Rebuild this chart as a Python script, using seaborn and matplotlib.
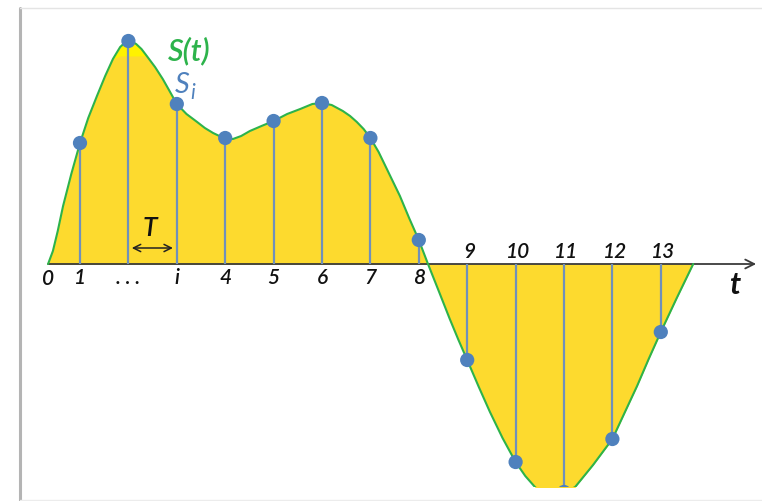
import numpy as np
import matplotlib
matplotlib.use("Agg")
import matplotlib.pyplot as plt
from matplotlib.lines import Line2D
import seaborn as sns

# Continuous signal S(t) (t in sample units)
curve_t = [0.34, 0.44, 0.54, 0.65, 0.82, 1.0, 1.17, 1.35, 1.52, 1.68,
           1.83, 1.92, 2.0, 2.08, 2.16, 2.27, 2.38, 2.55, 2.71, 2.85,
           3.0, 3.2, 3.42, 3.58, 3.75, 3.88, 4.0, 4.16, 4.33, 4.51,
           4.75, 5.0, 5.28, 5.55, 5.8, 6.0, 6.2, 6.43, 6.58, 6.72,
           6.86, 7.0, 7.17, 7.34, 7.47, 7.61, 7.8, 8.0, 8.19, 8.42,
           8.64, 8.82, 9.0, 9.24, 9.47, 9.73, 10.0, 10.2, 10.4, 10.6,
           10.81, 11.0, 11.23, 11.6, 12.0, 12.25, 12.51, 12.75, 13.0, 13.33,
           13.67]
curve_s = [0.0, 0.13, 0.33, 0.58, 0.90, 1.21, 1.46, 1.68, 1.88, 2.05,
           2.17, 2.21, 2.23, 2.22, 2.20, 2.15, 2.08, 1.97, 1.85, 1.73,
           1.60, 1.50, 1.42, 1.36, 1.31, 1.28, 1.26, 1.25, 1.28, 1.33,
           1.38, 1.43, 1.50, 1.55, 1.60, 1.61, 1.59, 1.53, 1.48, 1.42,
           1.35, 1.26, 1.12, 0.95, 0.82, 0.68, 0.46, 0.24, 0.0, -0.28,
           -0.55, -0.76, -0.96, -1.23, -1.48, -1.74, -1.98, -2.12, -2.23, -2.31,
           -2.33, -2.29, -2.23, -2.01, -1.75, -1.49, -1.22, -0.95, -0.68, -0.34,
           0.0]

# Samples S_i
sample_t = [1, 2, 3, 4, 5, 6, 7, 8, 9, 10, 11, 12, 13]
sample_s = [1.21, 2.23, 1.60, 1.26, 1.43, 1.61, 1.26, 0.24,
            -0.96, -1.98, -2.28, -1.75, -0.68]
sample_labels = ["1", ". . .", "i", "4", "5", "6", "7", "8",
                 "9", "10", "11", "12", "13"]

FILL = "#FDDA2E"
GREEN = "#2DB34B"
BLUE = "#4F81BD"
STEM = "#7090BA"
INK = "#111111"

sns.set_style("white")
plt.rcParams["font.family"] = ["Lato", "DejaVu Sans"]

fig = plt.figure(figsize=(7.62, 5.02), dpi=100)
fig.patch.set_facecolor("white")
# plot area ends at 488 px from top (curve is cut off there)
ax = fig.add_axes([0, 14 / 502, 1, 488 / 502])
ax.set_xlim(-0.653, 15.091)
ax.set_ylim(-2.23, 2.65)
ax.set_axis_off()

ct = np.array(curve_t)
cs = np.array(curve_s)
# bright yellow tip at the very top, normal fill below
ax.fill_between(ct, 0, cs, color="#FFF200", lw=0, zorder=1)
ax.fill_between(ct, 0, np.minimum(cs, 2.08), color=FILL, lw=0, zorder=1.1)

# time axis with arrow
ax.annotate("", xy=(14.97, 0), xytext=(0.34, 0),
            arrowprops=dict(arrowstyle="->", color="#3a3a3a", lw=1.3,
                            mutation_scale=16, shrinkA=0, shrinkB=0),
            zorder=2)

# stems
ax.vlines(sample_t, 0, sample_s, color=STEM, lw=1.6, zorder=3)

sns.lineplot(x=curve_t, y=curve_s, color=GREEN, lw=1.5, sort=False,
             ax=ax, zorder=4)
sns.scatterplot(x=sample_t, y=sample_s, color=BLUE, s=105,
                edgecolor="none", ax=ax, zorder=5)

# sample labels: below axis for positive samples, above for negative
lab_kw = dict(ha="center", va="center", fontsize=15, style="italic",
              weight="semibold", color=INK)
for t, s, lab in zip(sample_t, sample_s, sample_labels):
    if s > 0:
        ax.text(t, -0.135, lab, **lab_kw)
    else:
        ax.text(t + 0.05, 0.13, lab, **lab_kw)
ax.text(0.33, -0.14, "0", **lab_kw)

ax.text(14.53, -0.2, "t", ha="center", va="center", fontsize=22,
        style="italic", weight="bold", color=INK)

# sampling period T
ax.annotate("", xy=(2.92, 0.16), xytext=(2.07, 0.16),
            arrowprops=dict(arrowstyle="<->", color="#222222", lw=1.1,
                            mutation_scale=13, shrinkA=0, shrinkB=0))
ax.text(2.45, 0.36, "T", ha="center", va="center", fontsize=19,
        style="italic", weight="semibold", color=INK)

# legend-like labels
ax.text(3.26, 2.14, "S(t)", ha="center", va="center", fontsize=22,
        style="italic", weight="semibold", color=GREEN)
ax.text(3.11, 1.80, "S", ha="center", va="center", fontsize=21,
        style="italic", color=BLUE)
ax.text(3.33, 1.72, "i", ha="center", va="center", fontsize=15,
        style="italic", color=BLUE)

# picture frame
fig.add_artist(Line2D([20 / 762, 20 / 762], [1 - 9 / 502, 0], color="#b4b4b4",
                      lw=2.2, transform=fig.transFigure))
fig.add_artist(Line2D([20 / 762, 1], [1 - 9 / 502, 1 - 9 / 502],
                      color="#e4e4e4", lw=1.0, transform=fig.transFigure))
fig.add_artist(Line2D([20 / 762, 1], [1 / 502, 1 / 502],
                      color="#ececec", lw=1.0, transform=fig.transFigure))

fig.savefig("out.png", dpi=100, facecolor="white")
